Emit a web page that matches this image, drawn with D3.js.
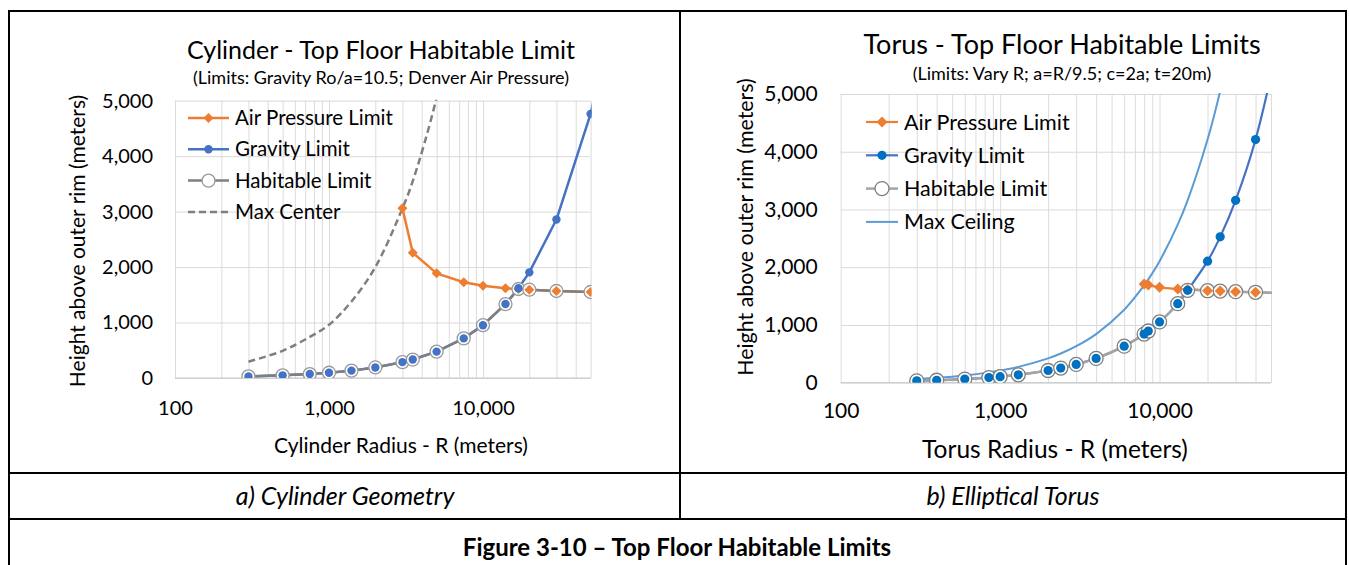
<!DOCTYPE html>
<html>
<head>
<meta charset="utf-8">
<script src="https://cdn.jsdelivr.net/npm/d3@7"></script>
<style>
  body { margin: 0; background: #fff; }
  svg { display: block; font-family: Lato, "Open Sans", sans-serif; }
</style>
</head>
<body>
<svg id="fig" width="1349" height="565"></svg>
<script>
// ---- data ----
var xTicks = [100, 1000, 10000];
var yTicks = [0, 1000, 2000, 3000, 4000, 5000];

// cylinder
var cylR         = [300, 500, 750, 1000, 1400, 2000, 3000, 3500, 5000, 7500, 10000, 14000, 17000, 20000, 30000, 50000, 60000];
var cylGravity   = [29, 48, 71, 95, 133, 190, 286, 333, 476, 714, 952, 1333, 1619, 1905, 2857, 4762, 5714];
var cylHabitable = [29, 48, 71, 95, 133, 190, 286, 333, 476, 714, 952, 1333, 1605, 1592, 1569, 1551, 1545];
var cylAirR      = [3000, 3500, 5000, 7500, 10000, 14000, 17000, 20000, 30000, 50000];
var cylAir       = [3059, 2259, 1887, 1726, 1664, 1617, 1605, 1592, 1569, 1551];
var cylCenterR   = [300, 500, 750, 1000, 1400, 2000, 3000, 3500, 5000, 7500];
var cylCenter    = [294, 490, 740, 960, 1380, 2000, 3059, 3550, 5060, 7560];

// torus
var torR         = [300, 400, 600, 850, 1000, 1300, 2000, 2400, 3000, 4000, 6000, 8000, 8500, 10000, 13000, 15000, 20000, 24000, 30000, 40000, 60000];
var torGravity   = [32, 42, 63, 89, 105, 137, 211, 253, 316, 421, 632, 842, 895, 1053, 1368, 1600, 2105, 2526, 3158, 4211, 6316];
var torHabitable = [32, 42, 63, 89, 105, 137, 211, 253, 316, 421, 632, 842, 895, 1053, 1368, 1600, 1593, 1586, 1576, 1566, 1550];
var torAirR      = [8000, 8500, 10000, 13000, 15000, 20000, 24000, 30000, 40000, 60000];
var torAir       = [1710, 1690, 1652, 1623, 1612, 1593, 1586, 1576, 1566, 1550];
var torCeilR     = [300, 400, 600, 850, 1000, 1300, 2000, 2400, 3000, 4000, 6000, 8000, 8500, 10000, 13000, 15000, 20000, 24000, 30000];
var torCeiling   = [63, 84, 126, 179, 211, 274, 421, 505, 632, 842, 1263, 1684, 1789, 2105, 2737, 3158, 4211, 5053, 6316];

var svg = d3.select("#fig");
var fmt = d3.format(",");

// ---- table frame ----
var frame = svg.append("g").attr("stroke", "#000").attr("stroke-width", 2);
frame.append("line").attr("x1", 9).attr("x2", 1346).attr("y1", 11).attr("y2", 11);
frame.append("line").attr("x1", 9).attr("x2", 9).attr("y1", 10).attr("y2", 565);
frame.append("line").attr("x1", 1346).attr("x2", 1346).attr("y1", 10).attr("y2", 565);
frame.append("line").attr("x1", 680).attr("x2", 680).attr("y1", 10).attr("y2", 519);
frame.append("line").attr("x1", 9).attr("x2", 1346).attr("y1", 473).attr("y2", 473);
frame.append("line").attr("x1", 9).attr("x2", 1346).attr("y1", 519).attr("y2", 519);

svg.append("text").attr("x", 345).attr("y", 505).attr("text-anchor", "middle")
  .style("font-size", "25px").style("font-style", "italic").text("a) Cylinder Geometry");
svg.append("text").attr("x", 1013).attr("y", 505).attr("text-anchor", "middle")
  .style("font-size", "25px").style("font-style", "italic").text("b) Elliptical Torus");
svg.append("text").attr("x", 677).attr("y", 556).attr("text-anchor", "middle")
  .style("font-size", "24px").style("font-weight", "bold").text("Figure 3-10 \u2013 Top Floor Habitable Limits");

function zip(xs, ys) {
  return xs.map(function (r, i) { return { r: r, v: ys[i] }; });
}

function diamond(s) {
  return "M0," + (-s) + "L" + s + ",0L0," + s + "L" + (-s) + ",0Z";
}

function drawChart(c) {
  var g = svg.append("g");
  var x = d3.scaleLog().domain([100, 50000]).range([c.left, c.right]);
  var y = d3.scaleLinear().domain([0, 5000]).range([c.bottom, c.top]);

  // minor + major vertical gridlines
  var vgrid = [];
  [100, 1000, 10000].forEach(function (d) {
    for (var k = 1; k <= 9; k++) if (d * k <= 50000) vgrid.push(d * k);
  });
  g.append("g").attr("transform", "translate(0," + c.bottom + ")")
    .call(d3.axisBottom(x).tickValues(vgrid).tickSize(c.top - c.bottom).tickFormat(""))
    .call(function (s) {
      s.select(".domain").remove();
      s.selectAll("line").attr("stroke", "#dcdcdc");
    });
  g.append("g").attr("transform", "translate(" + c.left + ",0)")
    .call(d3.axisLeft(y).tickValues(yTicks).tickSize(c.left - c.right).tickFormat(""))
    .call(function (s) {
      s.select(".domain").remove();
      s.selectAll("line").attr("stroke", "#d9d9d9");
    });
  g.append("line").attr("x1", c.left).attr("x2", c.right)
    .attr("y1", c.bottom).attr("y2", c.bottom).attr("stroke", "#c8c8c8");

  // tick labels
  g.append("g").attr("transform", "translate(0," + (c.bottom + c.xLabOff) + ")")
    .call(d3.axisBottom(x).tickValues(xTicks).tickSize(0).tickFormat(fmt))
    .call(function (s) {
      s.select(".domain").remove();
      s.selectAll("text").attr("fill", "#000").style("font-size", c.tickSize + "px")
        .style("font-family", "Lato, sans-serif");
    });
  g.append("g").attr("transform", "translate(" + (c.left - c.yLabOff) + ",0)")
    .call(d3.axisLeft(y).tickValues(yTicks).tickSize(0).tickFormat(fmt))
    .call(function (s) {
      s.select(".domain").remove();
      s.selectAll("text").attr("fill", "#000").style("font-size", c.tickSize + "px")
        .style("font-family", "Lato, sans-serif");
    });

  // titles
  g.append("text").attr("x", c.titleX).attr("y", c.titleY).attr("text-anchor", "middle")
    .style("font-size", c.titleSize + "px").text(c.title);
  g.append("text").attr("x", c.titleX).attr("y", c.subY).attr("text-anchor", "middle")
    .style("font-size", c.subSize + "px").text(c.subtitle);
  g.append("text").attr("x", c.xTitleX).attr("y", c.xTitleY).attr("text-anchor", "middle")
    .style("font-size", c.xTitleSize + "px").text(c.xTitle);
  g.append("text").attr("transform", "translate(" + c.yTitleX + "," + c.yTitleY + ") rotate(-90)")
    .attr("text-anchor", "middle").attr("dy", "0.35em")
    .style("font-size", c.yTitleSize + "px").text("Height above outer rim (meters)");

  // clip
  var clipId = "clip" + c.id;
  svg.append("clipPath").attr("id", clipId).append("rect")
    .attr("x", c.left).attr("y", c.top - 1).attr("width", c.right - c.left + 1).attr("height", c.bottom - c.top + 1);
  var plot = g.append("g").attr("clip-path", "url(#" + clipId + ")");

  var inDomain = function (d) { return d.r <= 50000; };

  c.series.forEach(function (s) {
    var line = d3.line().x(function (d) { return x(d.r); }).y(function (d) { return y(d.v); })
      .curve(s.smooth ? d3.curveCatmullRom.alpha(0.5) : d3.curveLinear);
    plot.append("path").datum(s.data).attr("d", line).attr("fill", "none")
      .attr("stroke", s.color).attr("stroke-width", s.width)
      .attr("stroke-dasharray", s.dash || null).attr("stroke-linejoin", "round");
  });

  // habitable rings under the small markers
  c.series.filter(function (s) { return s.marker === "ring"; }).forEach(function (s) {
    plot.selectAll(null).data(s.data.filter(inDomain)).enter().append("circle")
      .attr("cx", function (d) { return x(d.r); }).attr("cy", function (d) { return y(d.v); })
      .attr("r", s.size).attr("fill", "#fff").attr("stroke", s.mColor).attr("stroke-width", 1.3);
  });
  c.series.filter(function (s) { return s.marker === "dot" || s.marker === "diamond"; }).forEach(function (s) {
    var sel = plot.selectAll(null).data(s.data.filter(inDomain)).enter();
    if (s.marker === "dot") {
      sel.append("circle").attr("cx", function (d) { return x(d.r); }).attr("cy", function (d) { return y(d.v); })
        .attr("r", s.size).attr("fill", s.mColor);
    } else {
      sel.append("path").attr("d", diamond(s.size))
        .attr("transform", function (d) { return "translate(" + x(d.r) + "," + y(d.v) + ")"; })
        .attr("fill", s.mColor);
    }
  });

  // legend
  var lg = g.append("g");
  c.series.forEach(function (s, i) {
    var ly = c.legY + i * c.legGap;
    lg.append("line").attr("x1", c.legX).attr("x2", c.legX + c.legW).attr("y1", ly).attr("y2", ly)
      .attr("stroke", s.color).attr("stroke-width", s.width).attr("stroke-dasharray", s.dash || null);
    var mx = c.legX + c.legW / 2;
    if (s.marker === "dot") lg.append("circle").attr("cx", mx).attr("cy", ly).attr("r", s.size).attr("fill", s.mColor);
    if (s.marker === "diamond") lg.append("path").attr("d", diamond(s.size)).attr("transform", "translate(" + mx + "," + ly + ")").attr("fill", s.mColor);
    if (s.marker === "ring") lg.append("circle").attr("cx", mx).attr("cy", ly).attr("r", s.size).attr("fill", "#fff").attr("stroke", s.mColor).attr("stroke-width", 1.3);
    lg.append("text").attr("x", c.legX + c.legW + 6).attr("y", ly).attr("dy", "0.35em")
      .style("font-size", c.legSize + "px").text(s.name);
  });
}

drawChart({
  id: "cyl", left: 175, right: 590.6, top: 100.7, bottom: 378,
  xLabOff: 20, yLabOff: 19, tickSize: 20,
  title: "Cylinder - Top Floor Habitable Limit", titleX: 381, titleY: 59, titleSize: 25,
  subtitle: "(Limits: Gravity Ro/a=10.5; Denver Air Pressure)", subY: 84, subSize: 18,
  xTitle: "Cylinder Radius - R (meters)", xTitleX: 401, xTitleY: 453, xTitleSize: 21,
  yTitleX: 78, yTitleY: 241, yTitleSize: 21,
  legX: 188, legY: 118, legGap: 31.3, legW: 41, legSize: 20.5,
  series: [
    { name: "Air Pressure Limit", data: zip(cylAirR, cylAir), color: "#ed7d31", mColor: "#ed7d31", width: 2.5, marker: "diamond", size: 5 },
    { name: "Gravity Limit", data: zip(cylR, cylGravity), color: "#4472c4", mColor: "#4472c4", width: 2.5, marker: "dot", size: 4.2 },
    { name: "Habitable Limit", data: zip(cylR, cylHabitable), color: "#7f7f7f", mColor: "#999999", width: 2.5, marker: "ring", size: 6.5 },
    { name: "Max Center", data: zip(cylCenterR, cylCenter), color: "#7f7f7f", width: 2.5, dash: "7,4", smooth: true }
  ]
});

drawChart({
  id: "tor", left: 840.7, right: 1271, top: 94, bottom: 382.7,
  xLabOff: 17, yLabOff: 20, tickSize: 21,
  title: "Torus - Top Floor Habitable Limits", titleX: 1062, titleY: 54, titleSize: 27,
  subtitle: "(Limits: Vary R; a=R/9.5; c=2a; t=20m)", subY: 80, subSize: 18,
  xTitle: "Torus Radius - R (meters)", xTitleX: 1055, xTitleY: 458, xTitleSize: 24.5,
  yTitleX: 745, yTitleY: 227, yTitleSize: 21.4,
  legX: 866, legY: 122, legGap: 33.3, legW: 32, legSize: 21.5,
  series: [
    { name: "Air Pressure Limit", data: zip(torAirR, torAir), color: "#ed7d31", mColor: "#ed7d31", width: 2.2, marker: "diamond", size: 5.5, smooth: true },
    { name: "Gravity Limit", data: zip(torR, torGravity), color: "#4472c4", mColor: "#0070c0", width: 2.2, marker: "dot", size: 4.6, smooth: true },
    { name: "Habitable Limit", data: zip(torR, torHabitable), color: "#a5a5a5", mColor: "#7f7f7f", width: 2.5, marker: "ring", size: 7, smooth: true },
    { name: "Max Ceiling", data: zip(torCeilR, torCeiling), color: "#5b9bd5", width: 2, smooth: true }
  ]
});
</script>
</body>
</html>
